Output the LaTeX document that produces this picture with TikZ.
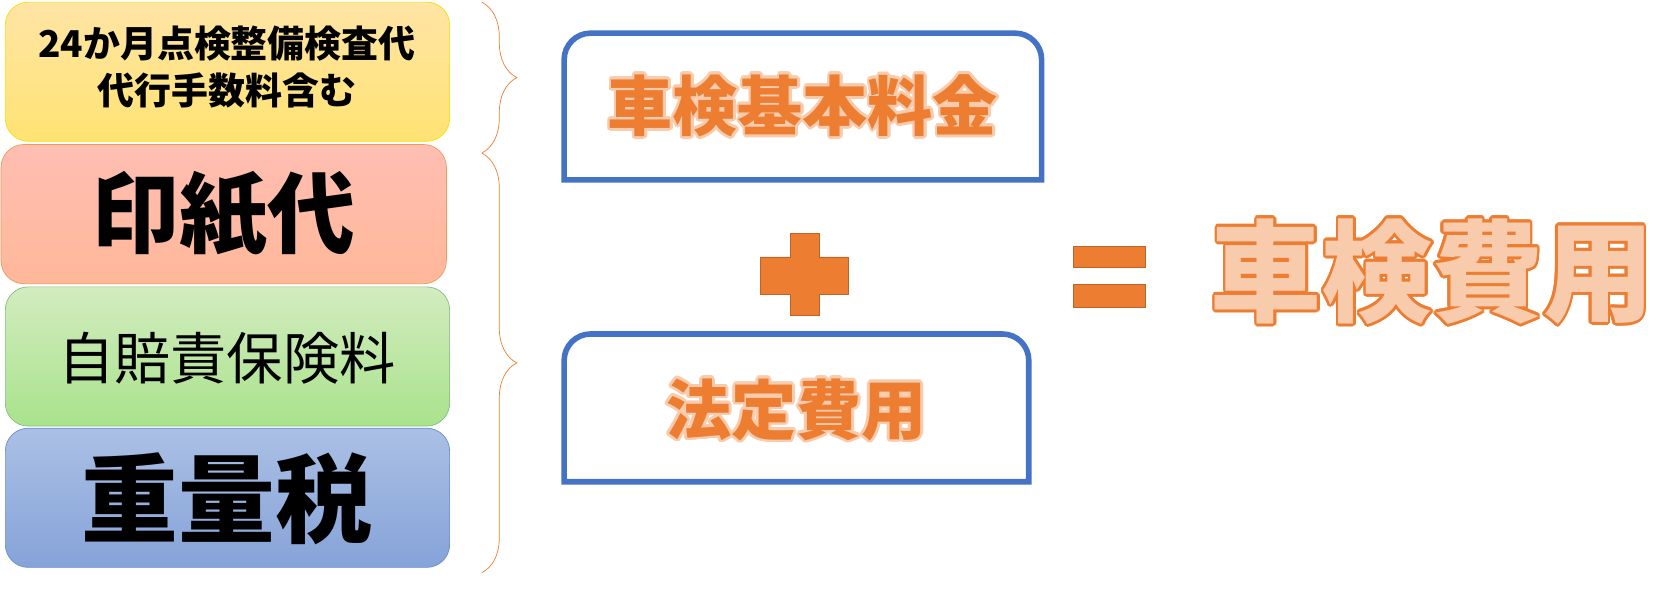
\documentclass[tikz,border=0pt]{standalone}
\usepackage{fontspec}
\setmainfont{Noto Sans CJK JP}
\usepackage{contour}
\contourlength{1.5pt}
\usetikzlibrary{positioning,calc,decorations.pathreplacing}
\definecolor{borange}{HTML}{ED7D31}
\definecolor{lorange}{HTML}{F8CBAD}
\definecolor{bblue}{HTML}{4472C4}

\begin{document}
\begin{tikzpicture}[x=0.02141cm,y=-0.02141cm,
	item/.style={rounded corners=13pt,inner sep=0pt},
	sumbox/.style={draw=bblue,line width=3.2pt},
	brace/.style={draw=borange,thin,decorate,decoration={brace,amplitude=20pt}}]
\useasboundingbox (0,0) rectangle (1560,569);
% left column
\shade[item,draw=yellow!80!orange,top color=yellow!40!orange!35,bottom color=yellow!60!orange!55] (5,2) rectangle (420,132);
\node (kihon) at (212,67) {\fontsize{21pt}{27pt}\selectfont\bfseries\begin{tabular}{c}24か月点検整備検査代\\代行手数料含む\end{tabular}};
\shade[item,draw=borange!80,top color=orange!30!red!30,bottom color=orange!60!red!40] (1,135) rectangle (417,265);
\node (inshi) at (209,200) {\fontsize{50pt}{54pt}\selectfont\bfseries 印紙代};
\shade[item,draw=green!50!black!50,top color=green!40!olive!25,bottom color=green!50!olive!45] (5,268) rectangle (420,398);
\node (jibai) at (212,335) {\fontsize{32pt}{36pt}\selectfont 自賠責保険料};
\shade[item,draw=bblue!80,top color=bblue!45,bottom color=bblue!65] (5,400) rectangle (420,530);
\node (juryo) at (212,466) {\fontsize{55pt}{58pt}\selectfont\bfseries 重量税};
% braces
\draw[brace] (450,2) -- (450,143);
\draw[brace] (450,143) -- (450,535);
% right side
\draw[sumbox] (527,168) [rounded corners=15pt] -- (527,31) -- (973,31) [sharp corners] -- (973,168) -- cycle;
\node (basic) at (750,100) {\fontsize{37pt}{40pt}\selectfont\bfseries\contour{lorange}{\color{borange}車検基本料金}};
\draw[sumbox] (527,450) [rounded corners=15pt] -- (527,312) -- (961,312) [sharp corners] -- (961,450) -- cycle;
\node (houtei) at (744,384) {\fontsize{37pt}{40pt}\selectfont\bfseries\contour{lorange}{\color{borange}法定費用}};
\draw[borange!80!black,fill=borange] (738,218) -- (765,218) -- (765,240) -- (792,240) -- (792,275) -- (765,275) -- (765,295) -- (738,295) -- (738,275) -- (710,275) -- (710,240) -- (738,240) -- cycle;
\draw[borange!80!black,fill=borange] (1003,230) rectangle (1070,250);
\draw[borange!80!black,fill=borange] (1003,266) rectangle (1070,287);
\node (total) at (1338,255) {\fontsize{63pt}{66pt}\selectfont\bfseries\contour{borange}{\color{lorange}車検費用}};
\end{tikzpicture}
\end{document}
